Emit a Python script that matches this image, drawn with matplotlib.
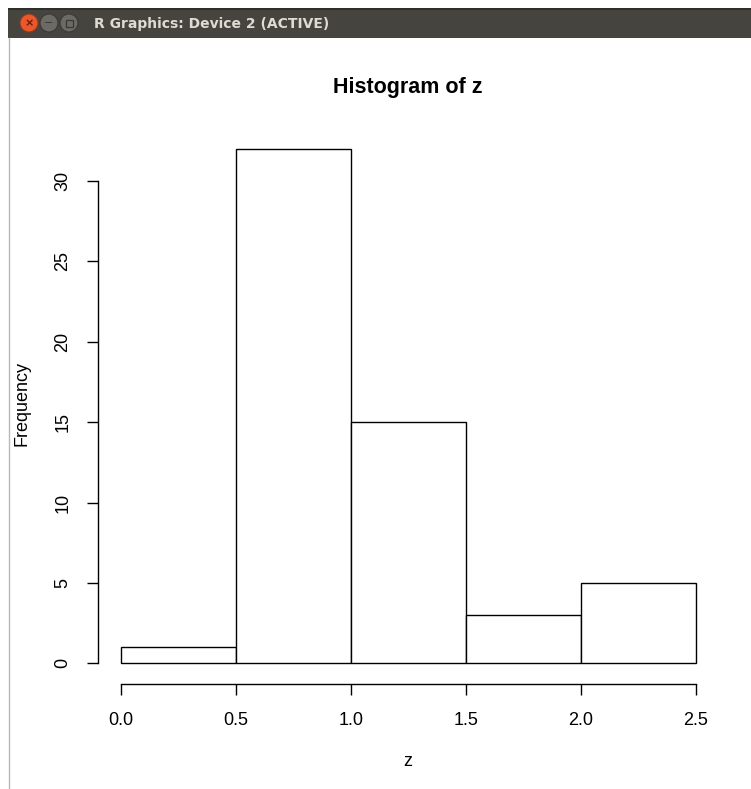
import numpy as np
import matplotlib.pyplot as plt
from matplotlib.patches import Rectangle, Circle

# dane histogramu
krawedzie = [0.0, 0.5, 1.0, 1.5, 2.0, 2.5]
liczebnosci = [1, 32, 15, 3, 5]
xticki = [0.0, 0.5, 1.0, 1.5, 2.0, 2.5]
yticki = [0, 5, 10, 15, 20, 25, 30]

W, H = 751, 789
plt.rcParams['font.family'] = ['Liberation Sans', 'DejaVu Sans']

fig = plt.figure(figsize=(W / 100, H / 100), dpi=100)
fig.patch.set_facecolor('white')

# okno R (pasek tytulu) w pikselach
okno = fig.add_axes([0, 0, 1, 1])
okno.set_xlim(0, W)
okno.set_ylim(H, 0)
okno.axis('off')
okno.add_patch(Rectangle((8, 8), W, 30, facecolor='#45443f', edgecolor='none'))
okno.add_patch(Rectangle((8, 8), W, 2, facecolor='#2f2e2b', edgecolor='none'))
okno.plot([8.5, 8.5], [38, H], color='#b8b8b8', lw=1)
okno.add_patch(Circle((29, 23), 9, facecolor='#e9572b', edgecolor='#8a3a20', lw=0.8))
okno.text(29, 23.5, '×', color='#5a1d0c', ha='center', va='center', fontsize=8, fontweight='bold',
          family='DejaVu Sans')
for cx in [49, 69]:
    okno.add_patch(Circle((cx, 23), 9, facecolor='#6b6a65', edgecolor='#3a3935', lw=0.8))
okno.text(49, 23, '−', color='#3a3935', ha='center', va='center', fontsize=8, family='DejaVu Sans')
okno.add_patch(Rectangle((65.5, 19.5), 7, 7, facecolor='none', edgecolor='#3a3935', lw=0.9))
okno.text(94, 23.5, 'R Graphics: Device 2 (ACTIVE)', color='#dfdbd2', ha='left', va='center',
          fontsize=10, fontweight='bold', family='DejaVu Sans')

# wykres
ax = fig.add_axes([98 / W, 105 / H, 621 / W, 556 / H])
ax.set_facecolor('none')
ax.bar(krawedzie[:-1], liczebnosci, width=np.diff(krawedzie), align='edge',
       facecolor='white', edgecolor='black', linewidth=1.0)
ax.set_xlim(-0.1, 2.6)
ax.set_ylim(-1.28, 33.28)

for s in ['top', 'right']:
    ax.spines[s].set_visible(False)
ax.spines['left'].set_bounds(0, 30)
ax.spines['bottom'].set_bounds(0, 2.5)
for s in ['left', 'bottom']:
    ax.spines[s].set_linewidth(1.0)

ax.set_xticks(xticki)
ax.set_xticklabels([f'{v:.1f}' for v in xticki])
ax.set_yticks(yticki)
ax.set_yticklabels([str(v) for v in yticki], rotation=90, va='center')
ax.tick_params(axis='both', length=8, width=1.0, labelsize=13, color='black')
ax.tick_params(axis='x', pad=12)
ax.tick_params(axis='y', pad=11)

fig.text(408 / W, 1 - 88 / H, 'Histogram of z', ha='center', va='center', fontsize=15.5, fontweight='bold')
fig.text(408 / W, 1 - 761 / H, 'z', ha='center', va='center', fontsize=13)
fig.text(22 / W, 1 - 404 / H, 'Frequency', ha='center', va='center', fontsize=13, rotation=90)

fig.savefig('out.png', dpi=100)
